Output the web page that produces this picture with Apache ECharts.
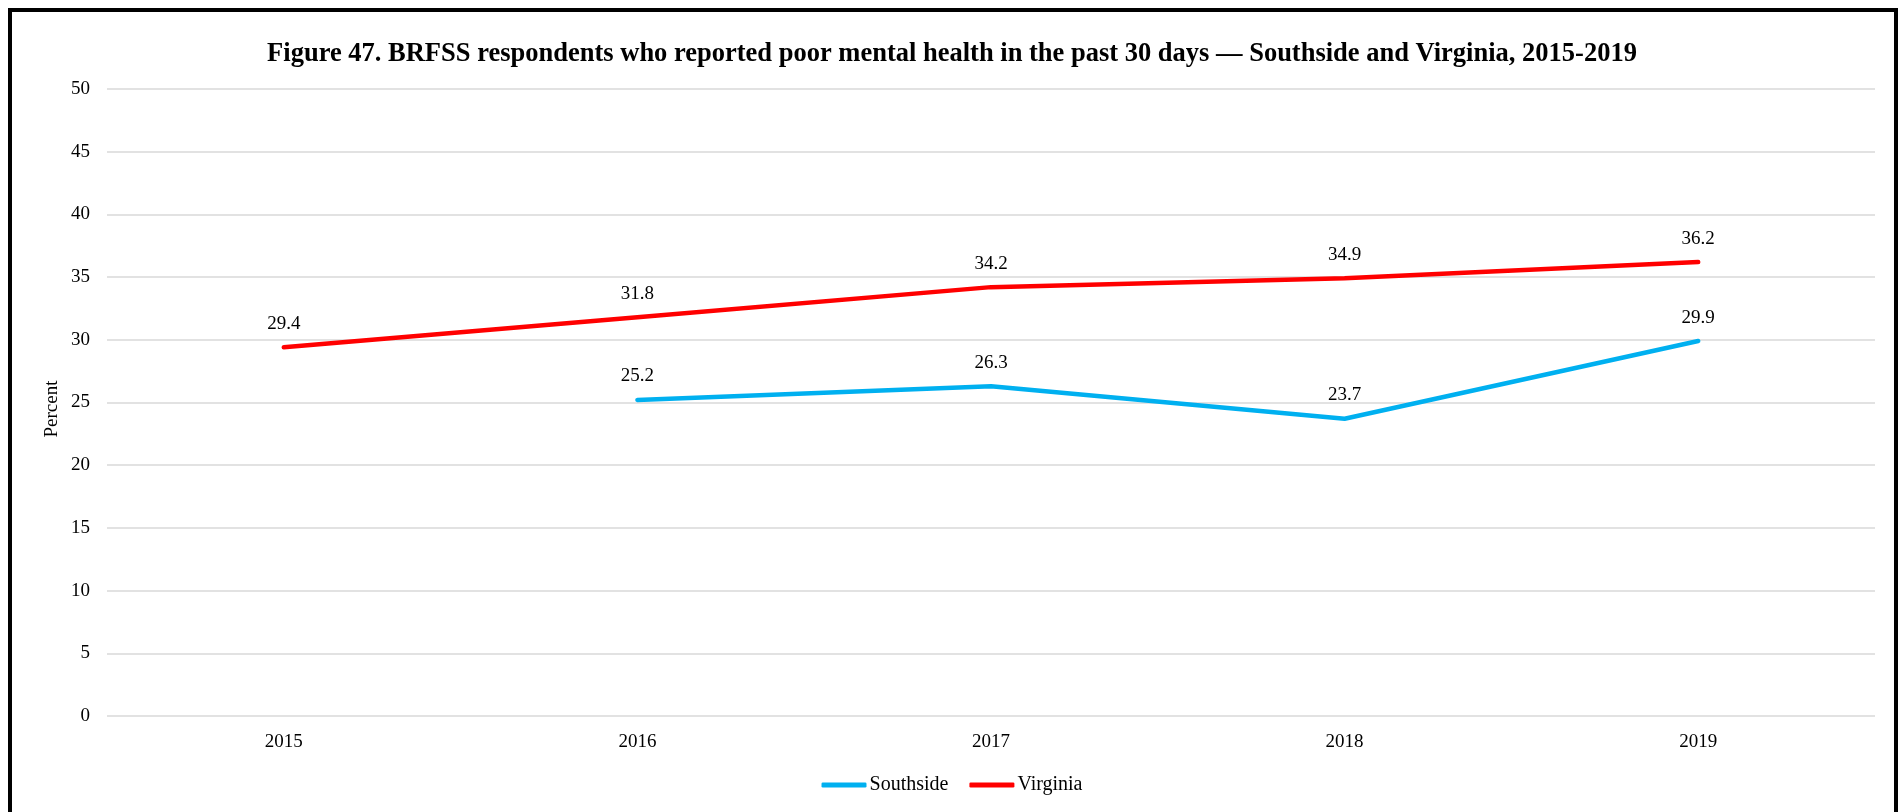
<!DOCTYPE html>
<html>
<head>
<meta charset="utf-8">
<script src="https://cdn.jsdelivr.net/npm/echarts@6/dist/echarts.min.js"></script>
<style>
  html, body { margin: 0; padding: 0; background: #fff; }
  #chart { width: 1904px; height: 812px; }
</style>
</head>
<body>
<div id="chart"></div>
<script>
var years = ['2015', '2016', '2017', '2018', '2019'];
var southside = [null, 25.2, 26.3, 23.7, 29.9];
var virginia = [29.4, 31.8, 34.2, 34.9, 36.2];

var serif = '"Liberation Serif", "Times New Roman", serif';

var myChart = echarts.init(document.getElementById('chart'));

function lineSeries(name, data, color) {
  return {
    name: name,
    type: 'line',
    data: data,
    // tiny invisible symbols so the value labels still show
    symbol: 'circle',
    symbolSize: 0,
    showSymbol: true,
    connectNulls: false,
    lineStyle: { color: color, width: 4.5, cap: 'round' },
    itemStyle: { color: color },
    label: {
      show: true,
      position: 'top',
      distance: 14,
      color: '#000',
      fontFamily: serif,
      fontSize: 19
    }
  };
}

var option = {
  animation: false,
  backgroundColor: '#fff',
  title: {
    text: 'Figure 47. BRFSS respondents who reported poor mental health in the past 30 days \u2014 Southside and Virginia, 2015-2019',
    left: 'center',
    top: 36,
    textStyle: { fontFamily: serif, fontSize: 26.5, fontWeight: 'bold', color: '#000' }
  },
  legend: {
    bottom: 12,
    left: 'center',
    icon: 'roundRect',
    itemWidth: 45,
    itemHeight: 5,
    itemGap: 21,
    textStyle: { fontFamily: serif, fontSize: 20, color: '#000', padding: [0, 0, 0, -2] },
    data: ['Southside', 'Virginia']
  },
  grid: { left: 107, right: 29, top: 89, bottom: 96 },
  xAxis: {
    type: 'category',
    data: years,
    boundaryGap: true,
    axisLine: { show: false },
    axisTick: { show: false },
    axisLabel: { fontFamily: serif, fontSize: 19, color: '#000', margin: 17 }
  },
  yAxis: {
    type: 'value',
    min: 0,
    max: 50,
    interval: 5,
    axisLine: { show: false },
    axisTick: { show: false },
    axisLabel: { fontFamily: serif, fontSize: 19, color: '#000', margin: 17 },
    splitLine: { lineStyle: { color: '#D9D9D9', width: 1.5 } }
  },
  graphic: [
    {
      type: 'rect',
      shape: { x: 10, y: 10, width: 1886, height: 900 },
      style: { fill: 'none', stroke: '#000', lineWidth: 4 },
      silent: true
    },
    {
      type: 'text',
      x: 52,
      y: 409,
      rotation: Math.PI / 2,
      style: {
        text: 'Percent',
        fontFamily: serif,
        fontSize: 19,
        fill: '#000',
        align: 'center',
        verticalAlign: 'middle'
      }
    }
  ],
  series: [
    lineSeries('Southside', southside, '#00B0F0'),
    lineSeries('Virginia', virginia, '#FF0000')
  ]
};

myChart.setOption(option);
</script>
</body>
</html>
